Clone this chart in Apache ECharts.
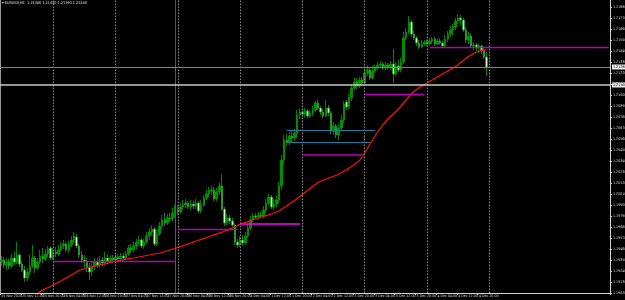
<!DOCTYPE html>
<html><head><meta charset="utf-8">
<script src="https://cdn.jsdelivr.net/npm/echarts@6/dist/echarts.min.js"></script>
<style>html,body{margin:0;padding:0;background:#000;}#c{width:625px;height:300px;}</style>
</head><body><div id="c"></div>
<script>
const symbolName = 'EURUSD,H1';
const xLabels = ['25 Nov 2020','25 Nov 12:00','25 Nov 20:00','26 Nov 04:00','26 Nov 12:00','26 Nov 20:00','27 Nov 04:00','27 Nov 12:00','27 Nov 20:00','30 Nov 04:00','30 Nov 12:00','30 Nov 20:00','1 Dec 04:00','1 Dec 12:00','1 Dec 20:00','2 Dec 04:00','2 Dec 12:00','2 Dec 20:00','3 Dec 04:00','3 Dec 12:00','3 Dec 20:00','4 Dec 04:00','4 Dec 12:00','4 Dec 20:00'];
const barsPerLabel = 8;
const totalSlots = 235;
const daySeparators = [20,44,68,92,116,140,164,188];
const blueVertical = 67.2;

const opens = [1.1933,1.1935,1.1930,1.1933,1.1929,1.1937,1.1933,1.1940,1.1931,1.1925,
1.1917,1.1923,1.1929,1.1937,1.1927,1.1933,1.1939,1.1936,1.1941,1.1947,
1.1937,1.1943,1.1941,1.1945,1.1949,1.1951,1.1945,1.1950,1.1955,1.1958,
1.1949,1.1940,1.1935,1.1933,1.1928,1.1923,1.1929,1.1933,1.1930,1.1935,
1.1932,1.1937,1.1934,1.1937,1.1935,1.1938,1.1936,1.1939,1.1937,1.1941,
1.1947,1.1945,1.1949,1.1953,1.1955,1.1949,1.1953,1.1959,1.1963,1.1966,
1.1951,1.1961,1.1969,1.1975,1.1972,1.1977,1.1976,1.1982,1.1985,1.1983,
1.1988,1.1990,1.1992,1.1988,1.1991,1.1989,1.1992,1.1984,1.1990,1.1997,
1.2001,1.2004,1.2005,1.1996,1.2003,1.2009,1.1986,1.1972,1.1977,1.1974,
1.1970,1.1953,1.1950,1.1955,1.1952,1.1959,1.1967,1.1975,1.1979,1.1978,
1.1980,1.1979,1.1985,1.1992,1.1998,1.1988,1.1991,1.1995,1.2009,1.2035,
1.2055,1.2053,1.2059,1.2057,1.2062,1.2080,1.2083,1.2081,1.2084,1.2079,
1.2082,1.2085,1.2092,1.2087,1.2083,1.2079,1.2087,1.2082,1.2064,1.2069,
1.2060,1.2067,1.2075,1.2093,1.2088,1.2097,1.2107,1.2113,1.2109,1.2115,
1.2112,1.2122,1.2125,1.2117,1.2124,1.2127,1.2130,1.2131,1.2127,1.2130,
1.2128,1.2131,1.2121,1.2129,1.2125,1.2133,1.2157,1.2163,1.2173,1.2161,
1.2157,1.2152,1.2148,1.2151,1.2153,1.2151,1.2154,1.2156,1.2151,1.2154,
1.2152,1.2149,1.2156,1.2161,1.2165,1.2168,1.2174,1.2177,1.2175,1.2165,
1.2155,1.2159,1.2149,1.2150,1.2147,1.2149,1.2145,1.2138];
const closes = [1.1935,1.1930,1.1933,1.1929,1.1937,1.1933,1.1940,1.1931,1.1925,1.1917,
1.1923,1.1929,1.1937,1.1927,1.1933,1.1939,1.1936,1.1941,1.1946,1.1937,
1.1943,1.1941,1.1945,1.1949,1.1951,1.1945,1.1950,1.1955,1.1959,1.1949,
1.1940,1.1935,1.1933,1.1928,1.1923,1.1929,1.1933,1.1930,1.1935,1.1932,
1.1937,1.1934,1.1937,1.1935,1.1938,1.1936,1.1939,1.1937,1.1941,1.1947,
1.1945,1.1949,1.1953,1.1955,1.1949,1.1953,1.1959,1.1963,1.1966,1.1951,
1.1961,1.1969,1.1975,1.1972,1.1977,1.1976,1.1982,1.1985,1.1983,1.1988,
1.1990,1.1992,1.1988,1.1991,1.1989,1.1992,1.1984,1.1990,1.1997,1.2001,
1.2004,1.2005,1.1996,1.2003,1.2009,1.1986,1.1972,1.1977,1.1974,1.1970,
1.1953,1.1950,1.1955,1.1952,1.1959,1.1967,1.1975,1.1979,1.1978,1.1980,
1.1979,1.1985,1.1992,1.1998,1.1988,1.1991,1.1995,1.2009,1.2035,1.2055,
1.2053,1.2059,1.2057,1.2062,1.2080,1.2083,1.2081,1.2084,1.2079,1.2082,
1.2085,1.2092,1.2087,1.2083,1.2079,1.2087,1.2082,1.2064,1.2069,1.2060,
1.2067,1.2075,1.2091,1.2088,1.2097,1.2107,1.2113,1.2109,1.2115,1.2112,
1.2122,1.2125,1.2117,1.2124,1.2127,1.2130,1.2131,1.2127,1.2130,1.2128,
1.2131,1.2121,1.2129,1.2125,1.2133,1.2157,1.2163,1.2173,1.2161,1.2157,
1.2152,1.2148,1.2151,1.2153,1.2151,1.2154,1.2156,1.2151,1.2154,1.2152,
1.2149,1.2156,1.2161,1.2165,1.2168,1.2174,1.2177,1.2175,1.2165,1.2155,
1.2159,1.2149,1.2150,1.2147,1.2149,1.2145,1.2138,1.2128];
const highs = [1.1939,1.1938,1.1937,1.1936,1.1941,1.1943,1.1953,1.1942,1.1934,1.1929,
1.1927,1.1940,1.1950,1.1939,1.1937,1.1945,1.1947,1.1946,1.1949,1.1949,
1.1947,1.1948,1.1950,1.1953,1.1955,1.1953,1.1954,1.1959,1.1963,1.1961,
1.1951,1.1944,1.1940,1.1937,1.1932,1.1933,1.1937,1.1937,1.1939,1.1938,
1.1943,1.1941,1.1940,1.1940,1.1941,1.1941,1.1942,1.1942,1.1944,1.1950,
1.1951,1.1953,1.1956,1.1959,1.1957,1.1956,1.1963,1.1967,1.1970,1.1968,
1.1965,1.1973,1.1980,1.1982,1.1981,1.1982,1.1987,1.1990,1.1990,1.1992,
1.1995,1.1996,1.1994,1.1995,1.1994,1.1996,1.1994,1.1995,1.2000,1.2005,
1.2008,1.2009,1.2008,1.2007,1.2013,1.2021,1.1988,1.1981,1.1980,1.1977,
1.1972,1.1956,1.1959,1.1960,1.1963,1.1971,1.1979,1.1982,1.1982,1.1983,
1.1983,1.1989,1.1996,1.2001,1.2000,1.1996,1.1999,1.2013,1.2040,1.2060,
1.2061,1.2063,1.2064,1.2066,1.2085,1.2087,1.2086,1.2087,1.2086,1.2085,
1.2089,1.2094,1.2095,1.2089,1.2086,1.2095,1.2090,1.2084,1.2073,1.2071,
1.2071,1.2080,1.2094,1.2095,1.2101,1.2110,1.2117,1.2117,1.2118,1.2118,
1.2127,1.2130,1.2128,1.2129,1.2130,1.2133,1.2134,1.2133,1.2133,1.2132,
1.2134,1.2146,1.2133,1.2135,1.2137,1.2163,1.2167,1.2179,1.2175,1.2164,
1.2159,1.2155,1.2155,1.2155,1.2155,1.2157,1.2158,1.2158,1.2157,1.2157,
1.2154,1.2160,1.2164,1.2169,1.2171,1.2177,1.2181,1.2180,1.2177,1.2168,
1.2163,1.2162,1.2153,1.2152,1.2151,1.2150,1.2147,1.2143];
const lows = [1.1929,1.1927,1.1925,1.1926,1.1927,1.1930,1.1931,1.1928,1.1923,1.1913,
1.1914,1.1920,1.1927,1.1922,1.1925,1.1931,1.1932,1.1934,1.1938,1.1935,
1.1935,1.1938,1.1939,1.1943,1.1946,1.1943,1.1942,1.1948,1.1952,1.1947,
1.1937,1.1932,1.1927,1.1923,1.1915,1.1919,1.1925,1.1927,1.1927,1.1929,
1.1929,1.1931,1.1932,1.1932,1.1932,1.1933,1.1934,1.1934,1.1935,1.1939,
1.1942,1.1943,1.1946,1.1950,1.1947,1.1946,1.1951,1.1955,1.1960,1.1949,
1.1949,1.1959,1.1966,1.1969,1.1970,1.1973,1.1974,1.1978,1.1980,1.1981,
1.1985,1.1987,1.1986,1.1985,1.1986,1.1986,1.1982,1.1982,1.1988,1.1995,
1.1998,1.2000,1.1994,1.1994,1.2000,1.1984,1.1969,1.1970,1.1971,1.1968,
1.1950,1.1947,1.1948,1.1949,1.1950,1.1957,1.1965,1.1973,1.1976,1.1976,
1.1977,1.1977,1.1983,1.1990,1.1986,1.1985,1.1988,1.1992,1.2005,1.2030,
1.2049,1.2050,1.2053,1.2054,1.2057,1.2076,1.2078,1.2078,1.2077,1.2077,
1.2079,1.2083,1.2085,1.2080,1.2077,1.2078,1.2079,1.2061,1.2060,1.2057,
1.2055,1.2065,1.2072,1.2085,1.2086,1.2094,1.2105,1.2106,1.2107,1.2109,
1.2111,1.2119,1.2115,1.2116,1.2122,1.2125,1.2128,1.2125,1.2125,1.2126,
1.2125,1.2112,1.2119,1.2123,1.2123,1.2131,1.2155,1.2161,1.2158,1.2155,
1.2149,1.2146,1.2147,1.2149,1.2149,1.2150,1.2151,1.2149,1.2150,1.2150,
1.2147,1.2148,1.2153,1.2158,1.2160,1.2165,1.2171,1.2170,1.2163,1.2152,
1.2151,1.2147,1.2145,1.2144,1.2142,1.2141,1.2136,1.2119];

const maStart = 14;
const maValues = [1.19020,1.19035,1.19050,1.19062,1.19075,1.19087,1.19100,1.19115,1.19127,1.19140,
1.19155,1.19170,1.19185,1.19200,1.19215,1.19230,1.19245,1.19255,1.19262,1.19270,
1.19277,1.19282,1.19288,1.19294,1.19300,1.19306,1.19312,1.19319,1.19326,1.19332,
1.19338,1.19345,1.19350,1.19354,1.19358,1.19362,1.19366,1.19370,1.19375,1.19380,
1.19385,1.19390,1.19395,1.19400,1.19405,1.19410,1.19415,1.19420,1.19427,1.19435,
1.19442,1.19450,1.19458,1.19465,1.19476,1.19484,1.19493,1.19502,1.19511,1.19520,
1.19529,1.19538,1.19547,1.19556,1.19565,1.19574,1.19583,1.19592,1.19601,1.19610,
1.19619,1.19628,1.19638,1.19649,1.19659,1.19670,1.19680,1.19698,1.19708,1.19717,
1.19726,1.19735,1.19744,1.19753,1.19762,1.19770,1.19778,1.19786,1.19794,1.19801,
1.19810,1.19820,1.19830,1.19840,1.19857,1.19874,1.19892,1.19910,1.19928,1.19946,
1.19965,1.19985,1.20005,1.20025,1.20045,1.20065,1.20085,1.20105,1.20125,1.20138,
1.20148,1.20158,1.20168,1.20178,1.20188,1.20198,1.20208,1.20222,1.20237,1.20253,
1.20270,1.20288,1.20306,1.20324,1.20345,1.20380,1.20420,1.20465,1.20510,1.20550,
1.20590,1.20630,1.20665,1.20700,1.20730,1.20760,1.20785,1.20810,1.20835,1.20860,
1.20890,1.20920,1.20950,1.20980,1.21010,1.21035,1.21055,1.21075,1.21090,1.21105,
1.21120,1.21135,1.21150,1.21165,1.21180,1.21195,1.21210,1.21225,1.21240,1.21255,
1.21270,1.21285,1.21305,1.21325,1.21345,1.21365,1.21385,1.21400,1.21415,1.21427,
1.21437,1.21444,1.21448,1.21450];

// horizontal level segments: [fromBar, toBar, price]
const levelsPurple = [[20, 67.2, 1.1934], [68, 91, 1.1966], [140, 163, 1.2101], [164.5, 234, 1.2148]];
const levelBright = [[92, 115, 1.1971]];
const levelDark = [[116, 139, 1.2040]];
const levelsBlue = [[110, 144, 1.2065], [110, 142, 1.2053]];
const bidPrice = 1.2128;
const linePrice = 1.2110;
const axisMin = 1.1902, axisMax = 1.2195, axisStep = 0.0011;

const categories = [];
for (let i = 0; i < totalSlots; i++) categories.push(String(i));
const candles = opens.map((o, i) => [o, closes[i], lows[i], highs[i]]);
const ma = opens.map((_, i) => i < maStart ? '-' : maValues[i - maStart]);

const FONT = "'Liberation Sans Narrow','DejaVu Sans Condensed','Liberation Sans',sans-serif";
const seg = (arr, color, width) => arr.map(s => [
  {coord: [s[0], s[2]], lineStyle: {color: color, width: width, type: 'solid'}},
  {coord: [s[1], s[2]]}
]);

const chart = echarts.init(document.getElementById('c'), null, {renderer: 'canvas'});
chart.setOption({
  animation: false,
  backgroundColor: '#000000',
  grid: {left: 0, right: 15, top: 0, bottom: 7, containLabel: false, outerBoundsMode: 'none'},
  xAxis: {
    type: 'category', data: categories, boundaryGap: true,
    axisLine: {show: true, lineStyle: {color: '#d0d0d0', width: 1}},
    axisTick: {show: true, length: 2, interval: (i) => i % barsPerLabel === 0 && i < xLabels.length * barsPerLabel, lineStyle: {color: '#d0d0d0'}},
    axisLabel: {
      show: true, interval: (i) => i % barsPerLabel === 0 && i < xLabels.length * barsPerLabel,
      formatter: (v, i) => xLabels[i / barsPerLabel] || '',
      color: '#d8d8d8', fontSize: 3.6, fontFamily: FONT, align: 'left', margin: 1.5
    },
    splitLine: {show: false}
  },
  yAxis: {
    type: 'value', position: 'right', min: axisMin, max: axisMax, interval: axisStep, scale: true,
    axisLine: {show: true, lineStyle: {color: '#d0d0d0', width: 1}},
    axisTick: {show: true, length: 2, lineStyle: {color: '#d0d0d0'}},
    axisLabel: {show: true, showMaxLabel: false, formatter: v => v.toFixed(5), color: '#d8d8d8', fontSize: 3.6, fontFamily: FONT, margin: 3},
    splitLine: {show: false}
  },
  graphic: [
    {type: 'text', left: 2, top: 1, style: {text: '▾ ' + symbolName + '  ' + opens[opens.length-1].toFixed(5) + ' ' + highs[highs.length-1].toFixed(5) + ' ' + lows[lows.length-1].toFixed(5) + ' ' + closes[closes.length-1].toFixed(5), fill: '#e0e0e0', font: '3.8px ' + FONT}},
    {type: 'line', shape: {x1: 0.5, y1: 0, x2: 0.5, y2: 293}, style: {stroke: '#9a9a9a', lineWidth: 1}}
  ],
  series: [
    {
      type: 'candlestick', data: candles, barWidth: 2,
      itemStyle: {color: '#008a00', color0: '#d4f5cc', borderColor: '#00a000', borderColor0: '#18a018', borderWidth: 0.8},
      markLine: {
        silent: true, symbol: ['none', 'none'], animation: false, precision: 6,
        label: {show: false},
        data: [].concat(
          daySeparators.map(d => ({xAxis: d, lineStyle: {color: '#8a8a8a', width: 1, type: [1.5, 1.5]}})),
          [{xAxis: blueVertical, lineStyle: {color: '#1f6d8f', width: 1, type: 'solid'}}],
          seg(levelsBlue, '#1e7ea0', 1),
          seg(levelsPurple, '#b800b8', 1.3),
          seg(levelBright, '#ff00ff', 1.6),
          seg(levelDark, '#8a008a', 2),
          [
            {yAxis: linePrice, lineStyle: {color: '#c8c8c8', width: 1.6, type: 'solid'},
             label: {show: true, position: 'end', distance: 2, formatter: linePrice.toFixed(5), color: '#000', backgroundColor: '#e8e8e8', fontSize: 3.6, fontFamily: FONT, padding: [0.5, 1]}},
            {yAxis: bidPrice, lineStyle: {color: '#808080', width: 1, type: 'solid'},
             label: {show: true, position: 'end', distance: 2, formatter: bidPrice.toFixed(5), color: '#000', backgroundColor: '#f0f0f0', fontSize: 3.6, fontFamily: FONT, padding: [0.5, 1]}}
          ]
        )
      }
    },
    {
      type: 'line', data: ma, showSymbol: false, symbol: 'none', smooth: false, clip: true,
      lineStyle: {color: '#ff1010', width: 1.2}, z: 3
    }
  ]
});
</script></body></html>
